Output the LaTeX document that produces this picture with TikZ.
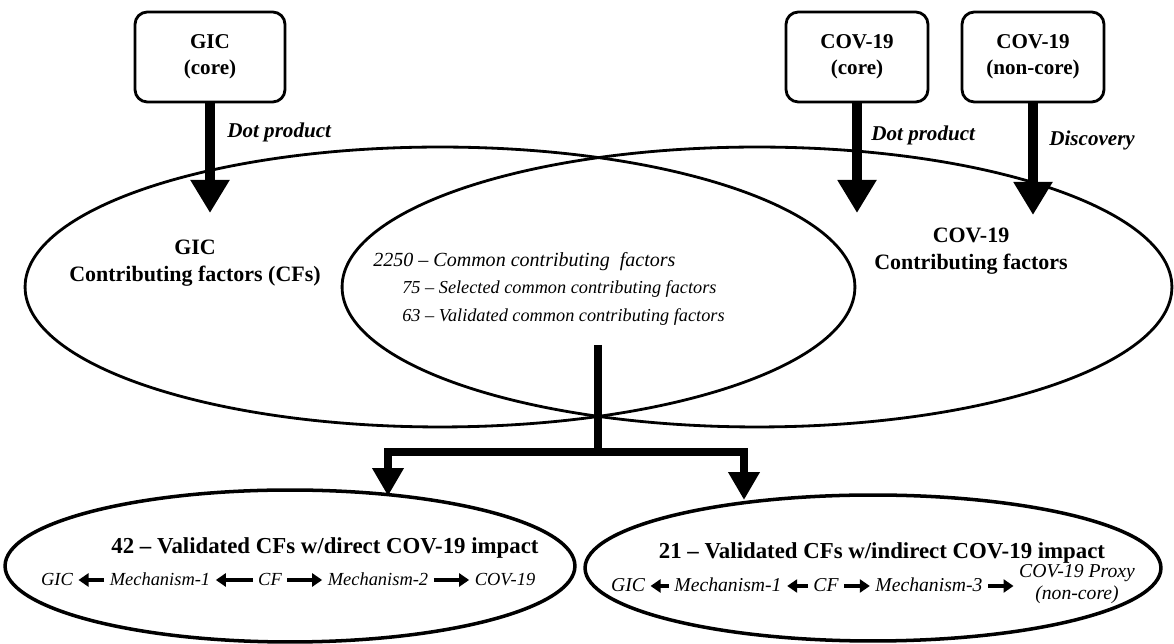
\documentclass[tikz,border=0pt]{standalone}
\usepackage{fontspec}
\setmainfont{Liberation Serif}
\usetikzlibrary{arrows.meta,shapes.geometric,positioning}

\tikzset{
  srcbox/.style={draw, line width=1.6pt, rounded corners=7pt, minimum width=2.84cm,
    minimum height=1.8cm, align=center, font=\bfseries\fontsize{12}{15}\selectfont},
  bigoval/.style={draw, ellipse, line width=1.6pt, inner sep=0pt},
  fatarrow/.style={line width=6pt, -{Triangle[width=0.74cm,length=0.66cm]}},
  forkline/.style={line width=5pt, -{Triangle[width=0.6cm,length=0.56cm]}},
  smallarrow/.style={line width=2.6pt, -{Triangle[width=0.26cm,length=0.2cm]},
    shorten <=2pt, shorten >=2pt},
  steplabel/.style={font=\bfseries\itshape\fontsize{12}{14}\selectfont, anchor=west, inner sep=0pt},
  setlabel/.style={font=\bfseries\fontsize{12.5}{15.3}\selectfont, align=center},
  countline/.style={font=\itshape\fontsize{10.4}{13}\selectfont, anchor=west, inner sep=0pt},
  chainword/.style={font=\itshape\fontsize{10.5}{12}\selectfont, inner sep=1pt,
    text height=1.6ex, text depth=0.35ex, align=center},
  chainwordb/.style={chainword, font=\itshape\fontsize{11.2}{12.5}\selectfont},
  resultlabel/.style={font=\bfseries\fontsize{13}{15}\selectfont}
}

\begin{document}
\begin{tikzpicture}[x=0.02cm, y=-0.02cm]
  \useasboundingbox (0,0) rectangle (1174,644);

  % the two overlapping sets
  \node[bigoval, minimum width=16.6cm, minimum height=5.6cm] (gicset) at (440,287) {};
  \node[bigoval, minimum width=16.6cm, minimum height=5.6cm] (covset) at (757,287) {};
  \node[setlabel] (giclabel) at (195,263) {GIC\\Contributing factors (CFs)};
  \node[setlabel] (covlabel) at (971,251) {COV-19\\Contributing factors};
  \node[countline, font=\itshape\fontsize{11.4}{13}\selectfont] (count1) at (373,262) {2250 -- Common contributing~ factors};
  \node[countline] (count2) at (402,289) {75 -- Selected common contributing factors};
  \node[countline] (count3) at (402,317) {63 -- Validated common contributing factors};

  % sources
  \node[srcbox, minimum width=3cm] (gicbox) at (210,57) {GIC\\(core)};
  \node[srcbox] (covbox) at (857,57) {COV-19\\(core)};
  \node[srcbox] (proxybox) at (1033,57) {COV-19\\(non-core)};
  \coordinate (gictip) at (210,213);
  \coordinate (covtip) at (857,213);
  \coordinate (proxytip) at (1033,215);
  \draw[fatarrow] (gicbox) -- (gictip);
  \draw[fatarrow] (covbox) -- (covtip);
  \draw[fatarrow] (proxybox) -- (proxytip);
  \node[steplabel] (gicstep) at (227,132) {Dot product};
  \node[steplabel] (covstep) at (871,135) {Dot product};
  \node[steplabel] (proxystep) at (1049,140) {Discovery};

  % split of the validated factors
  \coordinate (stemtop) at (598,345);
  \coordinate (split) at (598,452);
  \coordinate (lefttip) at (388,496);
  \coordinate (righttip) at (744,500);
  \draw[forkline] (stemtop) -- (split) -| (lefttip);
  \draw[forkline] (split) -| (righttip);

  % direct impact
  \node[bigoval, line width=2pt, minimum width=11.4cm, minimum height=3.04cm] (directset) at (290,566) {};
  \node[resultlabel] (directlabel) at (325,548) {42 -- Validated CFs w/direct COV-19 impact};
  \node[chainword] (gica) at (57,580) {GIC};
  \node[chainword] (mecha) at (160,580) {Mechanism-1};
  \node[chainword] (cfa) at (270,580) {CF};
  \node[chainword] (mechb) at (378,580) {Mechanism-2};
  \node[chainword] (cova) at (505,580) {COV-19};
  \draw[smallarrow] (mecha) -- (gica);
  \draw[smallarrow] (cfa) -- (mecha);
  \draw[smallarrow] (cfa) -- (mechb);
  \draw[smallarrow] (mechb) -- (cova);

  % indirect impact
  \node[bigoval, line width=2pt, minimum width=11.52cm, minimum height=2.92cm] (indirectset) at (873,568) {};
  \node[resultlabel] (indirectlabel) at (882,553) {21 -- Validated CFs w/indirect COV-19 impact};
  \node[chainwordb] (gicb) at (628,586) {GIC};
  \node[chainwordb] (mechc) at (728,586) {Mechanism-1};
  \node[chainwordb] (cfb) at (826,586) {CF};
  \node[chainwordb] (mechd) at (929,586) {Mechanism-3};
  \node[chainwordb, text height=, text depth=] (proxyb) at (1077,584) {COV-19 Proxy\\(non-core)};
  \draw[smallarrow] (mechc) -- (gicb);
  \draw[smallarrow] (cfb) -- (mechc);
  \draw[smallarrow] (cfb) -- (mechd);
  \draw[smallarrow] (mechd.east) -- (mechd.east -| proxyb.west);
\end{tikzpicture}
\end{document}
